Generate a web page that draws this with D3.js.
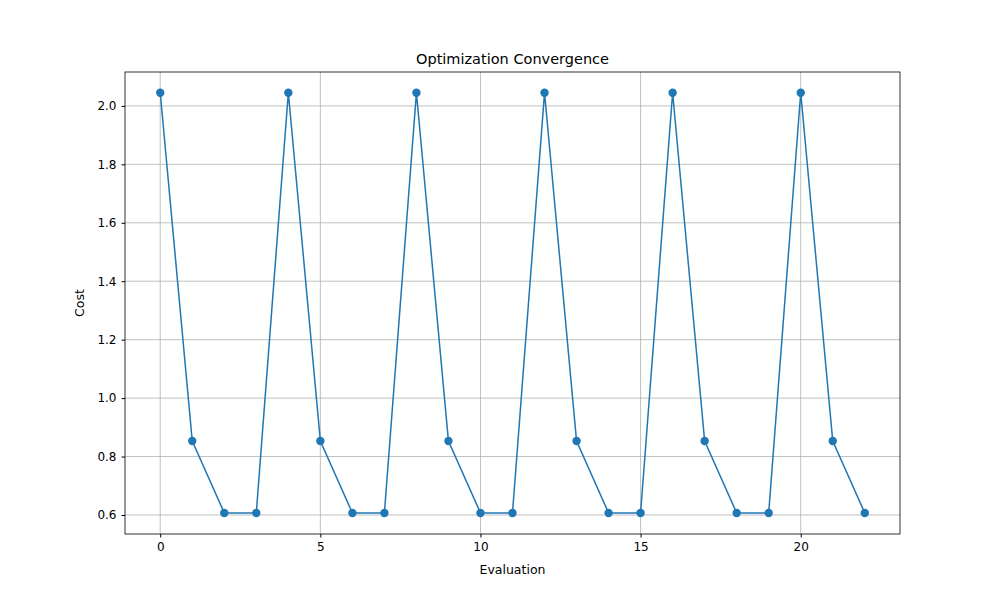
<!DOCTYPE html>
<html><head><meta charset="utf-8">
<script src="https://cdn.jsdelivr.net/npm/d3@7"></script>
<style>body{margin:0;background:#fff}text{font-family:"DejaVu Sans",sans-serif}</style>
</head><body><div id="chart"></div>
<script>
const evaluations = d3.range(23);
const costs = [2.045,0.853,0.607,0.607,2.045,0.853,0.607,0.607,2.045,0.853,0.607,0.607,
  2.045,0.853,0.607,0.607,2.045,0.853,0.607,0.607,2.045,0.853,0.607];
const xTicks = [0,5,10,15,20];
const yTicks = [0.6,0.8,1.0,1.2,1.4,1.6,1.8,2.0];

const width = 1000, height = 600;
const m = {left:125, right:100, top:72, bottom:66};
const svg = d3.select("#chart").append("svg").attr("width",width).attr("height",height);

const x = d3.scaleLinear().domain([-1.1,23.1]).range([m.left,width-m.right]);
const y = d3.scaleLinear().domain([0.535,2.116]).range([height-m.bottom,m.top]);

// grid
svg.append("g").selectAll("line").data(xTicks).join("line")
  .attr("x1",d=>x(d)).attr("x2",d=>x(d)).attr("y1",m.top).attr("y2",height-m.bottom)
  .attr("stroke","#b0b0b0").attr("stroke-width",0.8);
svg.append("g").selectAll("line").data(yTicks).join("line")
  .attr("y1",d=>y(d)).attr("y2",d=>y(d)).attr("x1",m.left).attr("x2",width-m.right)
  .attr("stroke","#b0b0b0").attr("stroke-width",0.8);

const xAxis = svg.append("g").attr("transform",`translate(0,${height-m.bottom})`)
  .call(d3.axisBottom(x).tickValues(xTicks).tickFormat(d3.format("d")).tickSizeOuter(0).tickSize(3.5).tickPadding(5));
const yAxis = svg.append("g").attr("transform",`translate(${m.left},0)`)
  .call(d3.axisLeft(y).tickValues(yTicks).tickFormat(d3.format(".1f")).tickSizeOuter(0).tickSize(3.5).tickPadding(5));
[xAxis,yAxis].forEach(a=>{a.selectAll("text").attr("font-size",12).attr("fill","#000");a.select(".domain").remove();});

svg.append("rect").attr("x",m.left).attr("y",m.top).attr("width",width-m.left-m.right)
  .attr("height",height-m.top-m.bottom).attr("fill","none").attr("stroke","#000").attr("stroke-width",0.8);

const line = d3.line().x((d,i)=>x(evaluations[i])).y(d=>y(d));
svg.append("path").datum(costs).attr("d",line).attr("fill","none").attr("stroke","#1f77b4").attr("stroke-width",1.5);
svg.append("g").selectAll("circle").data(costs).join("circle")
  .attr("cx",(d,i)=>x(evaluations[i])).attr("cy",d=>y(d)).attr("r",4.2).attr("fill","#1f77b4");

svg.append("text").attr("x",(m.left+width-m.right)/2).attr("y",64).attr("text-anchor","middle")
  .attr("font-size",14.5).text("Optimization Convergence");
svg.append("text").attr("x",(m.left+width-m.right)/2).attr("y",574).attr("text-anchor","middle")
  .attr("font-size",12.5).text("Evaluation");
svg.append("text").attr("transform",`translate(84,${(m.top+height-m.bottom)/2}) rotate(-90)`)
  .attr("text-anchor","middle").attr("font-size",12.5).text("Cost");
</script></body></html>
